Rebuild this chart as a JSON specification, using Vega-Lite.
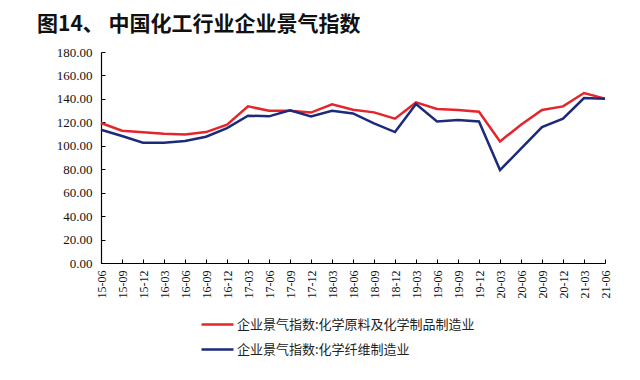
{
  "$schema": "https://vega.github.io/schema/vega-lite/v6.json",
  "autosize": {"type": "none"},
  "width": 504,
  "height": 211,
  "padding": {"left": 101, "top": 52, "right": 35, "bottom": 117},
  "background": "white",
  "title": {
    "text": "图14、 中国化工行业企业景气指数",
    "anchor": "start",
    "frame": "group",
    "orient": "top",
    "dx": -64,
    "dy": 28,
    "offset": 22,
    "baseline": "alphabetic",
    "font": "Noto Sans CJK SC",
    "fontSize": 21,
    "fontWeight": "bold",
    "color": "#111111"
  },
  "data": {
    "values": [
      {"date": "15-06", "series": "企业景气指数:化学原料及化学制品制造业", "value": 119.4},
      {"date": "15-09", "series": "企业景气指数:化学原料及化学制品制造业", "value": 112.8},
      {"date": "15-12", "series": "企业景气指数:化学原料及化学制品制造业", "value": 111.5},
      {"date": "16-03", "series": "企业景气指数:化学原料及化学制品制造业", "value": 110.3},
      {"date": "16-06", "series": "企业景气指数:化学原料及化学制品制造业", "value": 109.7},
      {"date": "16-09", "series": "企业景气指数:化学原料及化学制品制造业", "value": 111.7},
      {"date": "16-12", "series": "企业景气指数:化学原料及化学制品制造业", "value": 118.0},
      {"date": "17-03", "series": "企业景气指数:化学原料及化学制品制造业", "value": 133.6},
      {"date": "17-06", "series": "企业景气指数:化学原料及化学制品制造业", "value": 129.9},
      {"date": "17-09", "series": "企业景气指数:化学原料及化学制品制造业", "value": 129.8},
      {"date": "17-12", "series": "企业景气指数:化学原料及化学制品制造业", "value": 128.3},
      {"date": "18-03", "series": "企业景气指数:化学原料及化学制品制造业", "value": 135.4},
      {"date": "18-06", "series": "企业景气指数:化学原料及化学制品制造业", "value": 130.8},
      {"date": "18-09", "series": "企业景气指数:化学原料及化学制品制造业", "value": 128.5},
      {"date": "18-12", "series": "企业景气指数:化学原料及化学制品制造业", "value": 123.1},
      {"date": "19-03", "series": "企业景气指数:化学原料及化学制品制造业", "value": 137.0},
      {"date": "19-06", "series": "企业景气指数:化学原料及化学制品制造业", "value": 131.4},
      {"date": "19-09", "series": "企业景气指数:化学原料及化学制品制造业", "value": 130.5},
      {"date": "19-12", "series": "企业景气指数:化学原料及化学制品制造业", "value": 129.0},
      {"date": "20-03", "series": "企业景气指数:化学原料及化学制品制造业", "value": 103.7},
      {"date": "20-06", "series": "企业景气指数:化学原料及化学制品制造业", "value": 118.0},
      {"date": "20-09", "series": "企业景气指数:化学原料及化学制品制造业", "value": 130.5},
      {"date": "20-12", "series": "企业景气指数:化学原料及化学制品制造业", "value": 133.6},
      {"date": "21-03", "series": "企业景气指数:化学原料及化学制品制造业", "value": 145.0},
      {"date": "21-06", "series": "企业景气指数:化学原料及化学制品制造业", "value": 140.2},
      {"date": "15-06", "series": "企业景气指数:化学纤维制造业", "value": 113.7},
      {"date": "15-09", "series": "企业景气指数:化学纤维制造业", "value": 108.3},
      {"date": "15-12", "series": "企业景气指数:化学纤维制造业", "value": 102.6},
      {"date": "16-03", "series": "企业景气指数:化学纤维制造业", "value": 102.6},
      {"date": "16-06", "series": "企业景气指数:化学纤维制造业", "value": 104.0},
      {"date": "16-09", "series": "企业景气指数:化学纤维制造业", "value": 107.7},
      {"date": "16-12", "series": "企业景气指数:化学纤维制造业", "value": 115.0},
      {"date": "17-03", "series": "企业景气指数:化学纤维制造业", "value": 125.7},
      {"date": "17-06", "series": "企业景气指数:化学纤维制造业", "value": 125.1},
      {"date": "17-09", "series": "企业景气指数:化学纤维制造业", "value": 130.2},
      {"date": "17-12", "series": "企业景气指数:化学纤维制造业", "value": 125.1},
      {"date": "18-03", "series": "企业景气指数:化学纤维制造业", "value": 129.9},
      {"date": "18-06", "series": "企业景气指数:化学纤维制造业", "value": 127.6},
      {"date": "18-09", "series": "企业景气指数:化学纤维制造业", "value": 119.1},
      {"date": "18-12", "series": "企业景气指数:化学纤维制造业", "value": 111.7},
      {"date": "19-03", "series": "企业景气指数:化学纤维制造业", "value": 135.6},
      {"date": "19-06", "series": "企业景气指数:化学纤维制造业", "value": 120.8},
      {"date": "19-09", "series": "企业景气指数:化学纤维制造业", "value": 122.0},
      {"date": "19-12", "series": "企业景气指数:化学纤维制造业", "value": 120.8},
      {"date": "20-03", "series": "企业景气指数:化学纤维制造业", "value": 79.3},
      {"date": "20-06", "series": "企业景气指数:化学纤维制造业", "value": 97.5},
      {"date": "20-09", "series": "企业景气指数:化学纤维制造业", "value": 116.0},
      {"date": "20-12", "series": "企业景气指数:化学纤维制造业", "value": 123.1},
      {"date": "21-03", "series": "企业景气指数:化学纤维制造业", "value": 140.7},
      {"date": "21-06", "series": "企业景气指数:化学纤维制造业", "value": 140.2}
    ]
  },
  "mark": {"type": "line", "strokeWidth": 2.5},
  "encoding": {
    "x": {
      "field": "date",
      "type": "ordinal",
      "sort": null,
      "scale": {"type": "point", "padding": 0},
      "axis": {
        "title": null,
        "labelAngle": -90,
        "labelFont": "Liberation Serif",
        "labelFontSize": 12,
        "labelColor": "#111111",
        "labelPadding": 11,
        "tickSize": -4,
        "tickColor": "#000000",
        "domainColor": "#000000",
        "domainWidth": 1.2,
        "grid": false
      }
    },
    "y": {
      "field": "value",
      "type": "quantitative",
      "scale": {"domain": [0, 180], "nice": false},
      "axis": {
        "title": null,
        "values": [0, 20, 40, 60, 80, 100, 120, 140, 160, 180],
        "format": ".2f",
        "labelFont": "Liberation Serif",
        "labelFontSize": 13,
        "labelColor": "#111111",
        "labelPadding": 13,
        "tickSize": -4,
        "tickColor": "#000000",
        "domainColor": "#000000",
        "domainWidth": 1.2,
        "grid": false
      }
    },
    "color": {
      "field": "series",
      "type": "nominal",
      "scale": {
        "domain": ["企业景气指数:化学原料及化学制品制造业", "企业景气指数:化学纤维制造业"],
        "range": ["#e3262b", "#1c2a7c"]
      },
      "legend": {
        "title": null,
        "orient": "none",
        "legendX": 99,
        "legendY": 255,
        "direction": "vertical",
        "symbolType": "stroke",
        "symbolSize": 1024,
        "symbolStrokeWidth": 2.5,
        "rowPadding": -5,
        "labelFont": "Noto Sans CJK SC",
        "labelFontSize": 13,
        "labelColor": "#222222",
        "labelOffset": 2,
        "labelLimit": 400
      }
    }
  },
  "config": {"view": {"stroke": null}}
}
